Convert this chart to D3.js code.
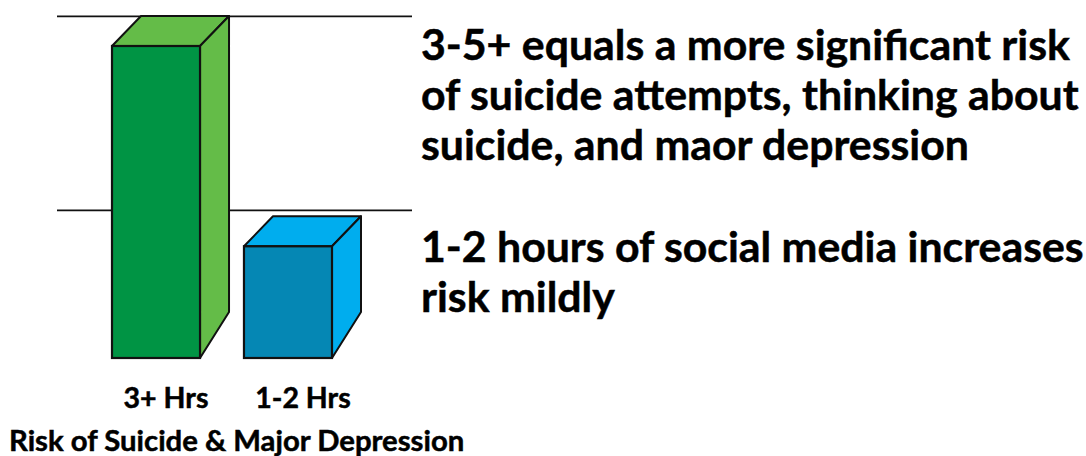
<!DOCTYPE html>
<html>
<head>
<meta charset="utf-8">
<script src="https://cdn.jsdelivr.net/npm/d3@7/dist/d3.min.js"></script>
<style>
  html, body { margin: 0; padding: 0; background: #fff; }
  svg { display: block; }
  text { font-family: Lato, "Open Sans", sans-serif; font-weight: 700; fill: #000; stroke: #000; stroke-width: 0.5px; }
</style>
</head>
<body>
<svg id="chart" width="1086" height="456"></svg>
<script>
// ---- data ----
const categories = ["3+ Hrs", "1-2 Hrs"];
const riskValues = [10, 3.58];
const referenceLevels = [10.95, 4.73];
const frontColors = ["#009444", "#0587b4"];
const sideColors = ["#64bc48", "#00adee"];
const axisTitle = "Risk of Suicide & Major Depression";
const notes = [
  ["3-5+ equals a more significant risk", "of suicide attempts, thinking about", "suicide, and maor depression"],
  ["1-2 hours of social media increases", "risk mildly"]
];

// ---- layout ----
const svg = d3.select("#chart");
const baseY = 358;
const depthX = 29, depthY = 30, depthYBottom = 46;

const x = d3.scaleBand().domain(categories).range([112, 332]).paddingInner(0.333).paddingOuter(0);
const y = d3.scaleLinear().domain([0, 10]).range([baseY, 46]);

// reference lines (behind bars)
svg.append("g").selectAll("line").data(referenceLevels).join("line")
  .attr("x1", 57).attr("x2", 412)
  .attr("y1", d => y(d)).attr("y2", d => y(d))
  .attr("stroke", "#111").attr("stroke-width", 1.6);

const bars = svg.append("g").selectAll("g").data(categories).join("g");

bars.each(function(c, i) {
  const g = d3.select(this);
  const x0 = x(c), x1 = x(c) + x.bandwidth();
  const yt = y(riskValues[i]);
  g.append("path")
    .attr("d", `M${x0},${yt} L${x0 + depthX},${yt - depthY} L${x1 + depthX},${yt - depthY} L${x1},${yt} Z`)
    .attr("fill", sideColors[i]).attr("stroke", "#111").attr("stroke-width", 2).attr("stroke-linejoin", "round");
  g.append("path")
    .attr("d", `M${x1},${yt} L${x1 + depthX},${yt - depthY} L${x1 + depthX},${baseY - depthYBottom} L${x1},${baseY} Z`)
    .attr("fill", sideColors[i]).attr("stroke", "#111").attr("stroke-width", 2).attr("stroke-linejoin", "round");
  g.append("rect")
    .attr("x", x0).attr("y", yt).attr("width", x.bandwidth()).attr("height", baseY - yt)
    .attr("fill", frontColors[i]).attr("stroke", "#111").attr("stroke-width", 2.2);
});

// category labels
svg.append("g").selectAll("text").data(categories).join("text")
  .attr("x", (d, i) => x(d) + x.bandwidth() / 2 + (i === 0 ? 10 : 15))
  .attr("y", 408)
  .attr("text-anchor", "middle")
  .attr("font-size", 28.5)
  .text(d => d);

svg.append("text")
  .attr("x", 9).attr("y", 451)
  .attr("font-size", 29.3)
  .text(axisTitle);

// notes
const noteTop = [60, 262];
notes.forEach((lines, k) => {
  const t = svg.append("text")
    .attr("x", 421).attr("y", noteTop[k])
    .attr("font-size", 42.8);
  t.selectAll("tspan").data(lines).join("tspan")
    .attr("x", 421)
    .attr("dy", (d, j) => j === 0 ? 0 : 50)
    .text(d => d);
});
</script>
</body>
</html>
